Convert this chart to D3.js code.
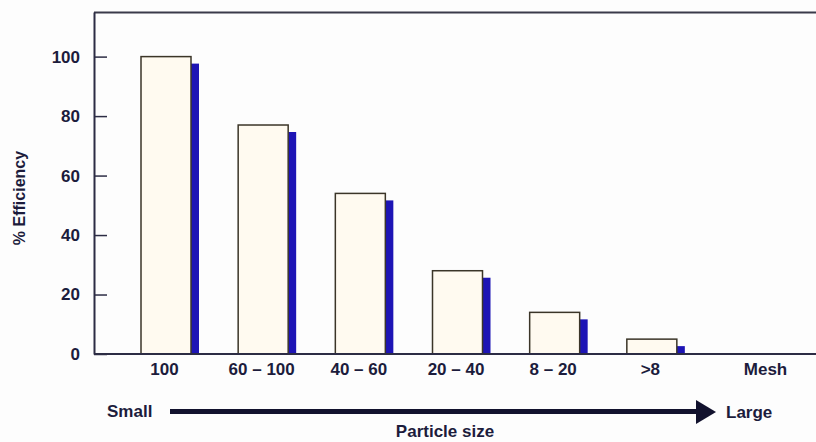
<!DOCTYPE html>
<html>
<head>
<meta charset="utf-8">
<script src="https://cdn.jsdelivr.net/npm/d3@7"></script>
<style>
  html, body { margin: 0; padding: 0; background: #fdfdfd; }
  svg { display: block; }
  text { font-family: "Liberation Sans", Arial, Helvetica, sans-serif; fill: #1c1c3c; }
</style>
</head>
<body>
<svg id="chart" width="816" height="442"></svg>
<script>
// ---- data ----
const categories = ["100", "60 – 100", "40 – 60", "20 – 40", "8 – 20", ">8", "Mesh"];
const efficiency = [100, 77, 54, 28, 14, 5, null];
const yTicks = [0, 20, 40, 60, 80, 100];
const yTitle = "% Efficiency";
const xTitle = "Particle size";
const smallLabel = "Small";
const largeLabel = "Large";

// ---- layout ----
const plotLeft = 94, plotRight = 816, plotTop = 12, plotBase = 354;
const barW = 50, shadowW = 8, shadowDrop = 7;

const svg = d3.select("#chart");

const x = d3.scalePoint().domain(categories).range([166, 749]);
const y = d3.scaleLinear().domain([0, 115]).range([plotBase, plotTop]);

// frame top line
svg.append("line")
  .attr("x1", plotLeft).attr("x2", plotRight).attr("y1", plotTop + 0.5).attr("y2", plotTop + 0.5)
  .attr("stroke", "#3a3a4a").attr("stroke-width", 2);

// bars data
const data = categories.map((c, i) => ({ c, v: efficiency[i] })).filter(d => d.v != null);

// blue shadows
svg.append("g").selectAll("rect").data(data).join("rect")
  .attr("x", d => x(d.c) + barW / 2)
  .attr("y", d => y(d.v) + shadowDrop)
  .attr("width", shadowW)
  .attr("height", d => plotBase - y(d.v) - shadowDrop)
  .attr("fill", "#1d14b5");

// front bars
svg.append("g").selectAll("rect").data(data).join("rect")
  .attr("x", d => x(d.c) - barW / 2)
  .attr("y", d => y(d.v))
  .attr("width", barW)
  .attr("height", d => plotBase - y(d.v))
  .attr("fill", "#fffaf0")
  .attr("stroke", "#3b3528")
  .attr("stroke-width", 1.5);

// y axis
const yAxis = d3.axisLeft(y).tickValues(yTicks).tickSizeInner(-13).tickSizeOuter(0).tickPadding(14);
const gy = svg.append("g").attr("transform", `translate(${plotLeft},0)`).call(yAxis);
gy.select(".domain").attr("stroke", "#2c2c44").attr("stroke-width", 2);
gy.selectAll(".tick line").attr("stroke", "#2c2c44").attr("stroke-width", 1.5);
gy.selectAll(".tick text")
  .attr("font-size", 17).attr("font-weight", "bold")
  .attr("fill", "#1c1c3c")
  .style("font-family", "'Liberation Sans', Arial, sans-serif");

// x baseline
svg.append("line")
  .attr("x1", plotLeft).attr("x2", plotRight).attr("y1", plotBase).attr("y2", plotBase)
  .attr("stroke", "#2c2c44").attr("stroke-width", 2);

// x axis labels
const xAxis = d3.axisBottom(x).tickSize(0).tickPadding(9);
const gx = svg.append("g").attr("transform", `translate(0,${plotBase})`).call(xAxis);
gx.select(".domain").remove();
gx.selectAll(".tick text")
  .attr("font-size", 17).attr("font-weight", "bold")
  .attr("fill", "#1c1c3c")
  .style("font-family", "'Liberation Sans', Arial, sans-serif")
  .attr("dx", (d, i) => i === categories.length - 1 ? 16 : -2);

// y title
svg.append("text")
  .attr("transform", `translate(25,198) rotate(-90)`)
  .attr("text-anchor", "middle")
  .attr("font-size", 16)
  .attr("font-weight", "bold")
  .text(yTitle);

// Small -> Large arrow
svg.append("text").attr("x", 107).attr("y", 417).attr("font-size", 17).attr("font-weight", "bold").text(smallLabel);
svg.append("line")
  .attr("x1", 170).attr("x2", 699).attr("y1", 411.5).attr("y2", 411.5)
  .attr("stroke", "#12122e").attr("stroke-width", 5);
svg.append("path")
  .attr("d", "M696,400 L716,412 L696,424 Z")
  .attr("fill", "#12122e");
svg.append("text").attr("x", 726).attr("y", 418).attr("font-size", 17).attr("font-weight", "bold").text(largeLabel);

// x title
svg.append("text")
  .attr("x", 445).attr("y", 437)
  .attr("text-anchor", "middle")
  .attr("font-size", 17).attr("font-weight", "bold")
  .text(xTitle);
</script>
</body>
</html>
